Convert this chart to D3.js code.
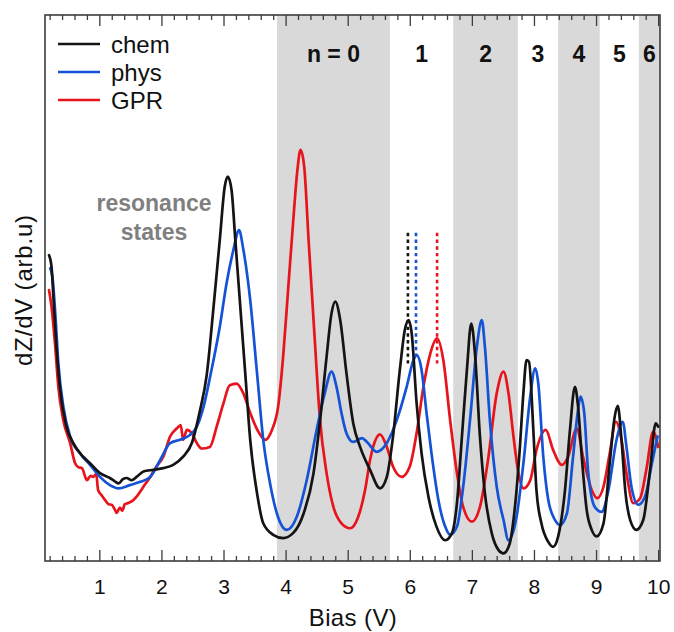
<!DOCTYPE html>
<html>
<head>
<meta charset="utf-8">
<script src="https://cdn.jsdelivr.net/npm/d3@7"></script>
<style>
  html, body { margin: 0; padding: 0; background: #fff; }
  svg { display: block; font-family: "Liberation Sans", Arial, Helvetica, sans-serif; }
</style>
</head>
<body>
<svg id="chart" width="674" height="632"></svg>
<script>
// Bias (V), dZ/dV (arb. units)
const chem = [
  [0.19,56.0],[0.23,53.9],[0.26,48.4],[0.31,39.2],[0.37,31.3],[0.47,24.6],[0.58,21.6],
  [0.74,19.1],[0.85,17.9],[1.01,16.1],[1.17,15.2],[1.25,14.6],[1.31,14.2],[1.38,15.0],
  [1.44,15.2],[1.52,14.8],[1.60,15.4],[1.71,16.4],[1.87,16.7],[2.03,17.0],[2.19,17.6],
  [2.35,19.1],[2.49,21.6],[2.62,27.5],[2.73,34.1],[2.84,46.6],[2.94,58.8],[3.02,68.6],
  [3.07,70.4],[3.13,67.9],[3.19,58.8],[3.27,46.6],[3.35,34.4],[3.43,22.2],[3.54,12.4],
  [3.64,6.9],[3.80,4.8],[3.96,4.2],[4.12,5.1],[4.29,8.7],[4.45,16.1],[4.55,25.2],
  [4.66,37.4],[4.74,45.4],[4.80,47.5],[4.88,44.1],[4.98,34.4],[5.09,25.2],[5.20,20.9],
  [5.36,16.7],[5.52,13.3],[5.63,15.4],[5.73,22.8],[5.84,35.0],[5.92,42.3],[5.98,44.1],
  [6.03,41.8],[6.11,28.9],[6.19,19.7],[6.30,11.8],[6.43,6.3],[6.57,3.8],[6.68,5.1],
  [6.76,10.6],[6.84,22.8],[6.92,35.0],[6.99,43.5],[7.05,38.0],[7.13,22.8],[7.21,12.4],
  [7.32,5.1],[7.43,2.0],[7.51,1.4],[7.61,3.2],[7.67,7.5],[7.72,13.0],[7.77,20.3],
  [7.83,30.8],[7.88,36.8],[7.92,36.5],[7.99,24.0],[8.04,13.0],[8.12,6.9],[8.23,3.5],
  [8.31,2.6],[8.39,4.5],[8.50,13.0],[8.58,24.0],[8.66,31.9],[8.71,28.3],[8.77,19.1],
  [8.85,9.3],[8.93,5.7],[9.01,4.5],[9.12,6.9],[9.22,17.9],[9.30,26.4],[9.35,28.4],
  [9.41,22.2],[9.47,13.0],[9.55,7.5],[9.65,5.7],[9.76,7.5],[9.87,16.7],[9.96,25.2],
  [10.00,24.6]
];

const phys = [
  [0.21,53.6],[0.25,51.5],[0.29,45.4],[0.34,36.2],[0.42,28.3],[0.53,22.8],[0.69,19.7],
  [0.85,17.6],[1.01,15.4],[1.17,13.9],[1.31,13.3],[1.49,13.9],[1.66,14.5],[1.82,15.4],
  [1.98,18.5],[2.14,21.6],[2.30,22.2],[2.46,23.1],[2.57,24.6],[2.68,28.3],[2.78,33.5],
  [2.94,42.9],[3.05,50.9],[3.16,57.0],[3.25,60.6],[3.32,57.0],[3.43,47.8],[3.54,34.4],
  [3.64,22.2],[3.75,14.2],[3.86,8.7],[4.02,5.7],[4.18,8.1],[4.34,14.8],[4.50,24.0],
  [4.63,30.7],[4.74,34.7],[4.82,31.9],[4.90,27.1],[4.98,23.4],[5.09,21.8],[5.23,22.5],
  [5.31,21.8],[5.47,20.0],[5.63,21.6],[5.79,25.8],[5.95,31.9],[6.06,36.8],[6.11,37.7],
  [6.19,35.0],[6.27,27.1],[6.35,19.7],[6.46,11.2],[6.57,6.3],[6.65,4.8],[6.76,6.3],
  [6.86,13.6],[6.97,25.8],[7.08,39.2],[7.16,44.1],[7.21,39.2],[7.29,25.8],[7.40,13.6],
  [7.51,7.5],[7.59,3.8],[7.72,8.1],[7.83,17.9],[7.94,30.1],[8.02,35.3],[8.07,32.5],
  [8.15,19.1],[8.23,11.2],[8.34,7.5],[8.42,6.6],[8.53,8.7],[8.63,19.1],[8.71,27.7],
  [8.75,30.1],[8.81,27.1],[8.87,16.7],[8.98,9.9],[9.09,9.0],[9.20,13.0],[9.33,22.2],
  [9.43,25.5],[9.49,20.9],[9.57,13.6],[9.68,10.3],[9.79,11.8],[9.90,17.9],[9.99,22.8]
];

const gpr = [
  [0.19,49.6],[0.23,46.6],[0.29,39.2],[0.34,31.9],[0.42,25.8],[0.53,21.6],[0.61,17.9],
  [0.66,17.2],[0.72,17.0],[0.80,14.8],[0.86,15.6],[0.90,15.4],[0.95,15.9],[0.98,13.0],
  [1.04,12.0],[1.09,11.2],[1.15,10.4],[1.20,10.3],[1.25,9.4],[1.28,8.8],[1.33,9.8],
  [1.37,9.2],[1.41,10.4],[1.46,10.6],[1.52,10.9],[1.60,11.8],[1.71,13.6],[1.82,15.4],
  [1.92,17.3],[2.03,19.1],[2.14,22.8],[2.25,24.3],[2.31,24.9],[2.35,22.2],[2.41,24.0],
  [2.49,23.4],[2.57,21.6],[2.65,20.6],[2.78,20.9],[2.89,24.6],[3.00,28.9],[3.10,32.2],
  [3.21,32.5],[3.32,30.7],[3.43,27.1],[3.56,23.7],[3.67,22.2],[3.78,24.0],[3.88,28.3],
  [3.96,37.4],[4.04,49.6],[4.12,61.9],[4.19,71.6],[4.24,75.3],[4.30,72.2],[4.37,58.8],
  [4.47,40.5],[4.55,26.4],[4.66,16.1],[4.77,9.9],[4.90,6.9],[5.04,6.0],[5.17,8.1],
  [5.28,13.0],[5.36,18.5],[5.41,20.9],[5.52,23.2],[5.63,20.9],[5.73,17.3],[5.87,15.4],
  [6.00,17.3],[6.11,23.4],[6.22,31.9],[6.33,38.0],[6.44,40.8],[6.54,36.8],[6.65,25.8],
  [6.76,16.1],[6.86,9.9],[7.00,7.2],[7.13,9.9],[7.26,18.5],[7.40,30.7],[7.51,34.7],
  [7.59,30.7],[7.67,22.8],[7.75,16.1],[7.83,13.3],[7.94,14.8],[8.04,20.3],[8.19,24.0],
  [8.31,20.3],[8.45,17.6],[8.55,19.1],[8.69,24.3],[8.79,19.1],[8.93,13.0],[9.02,11.5],
  [9.12,13.6],[9.22,19.7],[9.32,25.5],[9.41,22.2],[9.49,16.1],[9.60,10.6],[9.71,11.5],
  [9.81,16.7],[9.92,23.7],[10.00,20.9]
];

const seriesNames = ["chem", "phys", "GPR"];
const seriesColors = ["#141414", "#1553d6", "#e8141c"];

// Landau-level bands: boundaries in V and their labels
const bandEdges = [3.86, 5.68, 6.70, 7.74, 8.39, 9.06, 9.69, 10.03];
const bandLabels = ["n = 0", "1", "2", "3", "4", "5", "6"];

// dotted markers at the n = 1 peak positions: [bias, top, bottom]
const peakMarkers = [[5.97, 60.1, 36.0], [6.10, 60.1, 36.8], [6.44, 60.1, 36.0]];

const majorTicks = [1, 2, 3, 4, 5, 6, 7, 8, 9, 10];
const minorTicks = d3.range(1, 51).map(i => +(i * 0.2).toFixed(1)).filter(v => !majorTicks.includes(v));

const svg = d3.select("#chart");
const L = 45, R = 660, T = 15, B = 561;

const x = d3.scaleLinear().domain([0.125, 10.03]).range([L, R]);
const y = d3.scaleLinear().domain([0, 100]).range([B, T]);

// shaded bands (every other band)
svg.append("g").selectAll("rect")
  .data(bandLabels.map((lab, i) => ({ lab, i, a: bandEdges[i], b: bandEdges[i + 1] })).filter(d => d.i % 2 === 0))
  .join("rect")
  .attr("x", d => x(d.a))
  .attr("width", d => x(d.b) - x(d.a))
  .attr("y", T)
  .attr("height", B - T)
  .attr("fill", "#d9d9d9");

// band labels
svg.append("g").selectAll("text")
  .data(bandLabels.map((lab, i) => ({ lab, a: bandEdges[i], b: bandEdges[i + 1] })))
  .join("text")
  .attr("x", d => x((d.a + d.b) / 2))
  .attr("y", 62)
  .attr("text-anchor", "middle")
  .attr("font-weight", "bold")
  .attr("font-size", 23)
  .attr("fill", "#111")
  .text(d => d.lab);

// axes: bottom (ticks inward) and top mirror
const axisColor = "#3c3c3c";
const bottomAxis = svg.append("g").attr("transform", `translate(0,${B})`)
  .call(d3.axisBottom(x).tickValues(majorTicks).tickSizeInner(-11).tickSizeOuter(0).tickPadding(18).tickFormat(d3.format("d")));
bottomAxis.append("g").call(d3.axisBottom(x).tickValues(minorTicks).tickSizeInner(-5).tickSizeOuter(0).tickFormat(""));
const topAxis = svg.append("g").attr("transform", `translate(0,${T})`)
  .call(d3.axisTop(x).tickValues(majorTicks).tickSizeInner(-11).tickSizeOuter(0).tickFormat(""));
topAxis.append("g").call(d3.axisTop(x).tickValues(minorTicks).tickSizeInner(-5).tickSizeOuter(0).tickFormat(""));

svg.selectAll(".domain").remove();
svg.selectAll(".tick line").attr("stroke", axisColor).attr("stroke-width", 1.3);
bottomAxis.selectAll(".tick text")
  .attr("font-size", 21)
  .attr("fill", "#111")
  .attr("font-family", "Liberation Sans, Arial, sans-serif");

// frame
svg.append("rect")
  .attr("x", L).attr("y", T)
  .attr("width", R - L).attr("height", B - T)
  .attr("fill", "none")
  .attr("stroke", axisColor)
  .attr("stroke-width", 1.6);

// curves
const line = d3.line()
  .x(d => x(d[0]))
  .y(d => y(d[1]))
  .curve(d3.curveMonotoneX);

const curveData = [chem, phys, gpr];
// red first, black on top
[2, 1, 0].forEach(i => {
  svg.append("path")
    .datum(curveData[i])
    .attr("d", line)
    .attr("fill", "none")
    .attr("stroke", seriesColors[i])
    .attr("stroke-width", 2.7)
    .attr("stroke-linejoin", "round")
    .attr("stroke-linecap", "round");
});

// dotted peak markers
svg.append("g").selectAll("line")
  .data(peakMarkers)
  .join("line")
  .attr("x1", d => x(d[0])).attr("x2", d => x(d[0]))
  .attr("y1", d => y(d[1])).attr("y2", d => y(d[2]))
  .attr("stroke", (d, i) => seriesColors[i])
  .attr("stroke-width", 2.6)
  .attr("stroke-dasharray", "3.4,3.3");

// legend
const legend = svg.append("g");
seriesNames.forEach((name, i) => {
  const ly = 44 + i * 28;
  legend.append("line")
    .attr("x1", 58).attr("x2", 100)
    .attr("y1", ly).attr("y2", ly)
    .attr("stroke", seriesColors[i])
    .attr("stroke-width", 2.7);
  legend.append("text")
    .attr("x", 111)
    .attr("y", ly + 8.5)
    .attr("font-size", 24)
    .attr("fill", "#111")
    .text(name);
});

// annotation
const ann = svg.append("text")
  .attr("text-anchor", "middle")
  .attr("font-weight", "bold")
  .attr("font-size", 23)
  .attr("fill", "#7f7f7f");
ann.append("tspan").attr("x", 154).attr("y", 211).text("resonance");
ann.append("tspan").attr("x", 154).attr("y", 240).text("states");

// axis titles
svg.append("text")
  .attr("x", 353)
  .attr("y", 626)
  .attr("text-anchor", "middle")
  .attr("font-size", 24)
  .attr("letter-spacing", 0.4)
  .attr("fill", "#111")
  .text("Bias (V)");

svg.append("text")
  .attr("transform", "translate(31.5,290) rotate(-90)")
  .attr("text-anchor", "middle")
  .attr("font-size", 24)
  .attr("letter-spacing", 0.8)
  .attr("fill", "#111")
  .text("dZ/dV (arb.u)");
</script>
</body>
</html>
